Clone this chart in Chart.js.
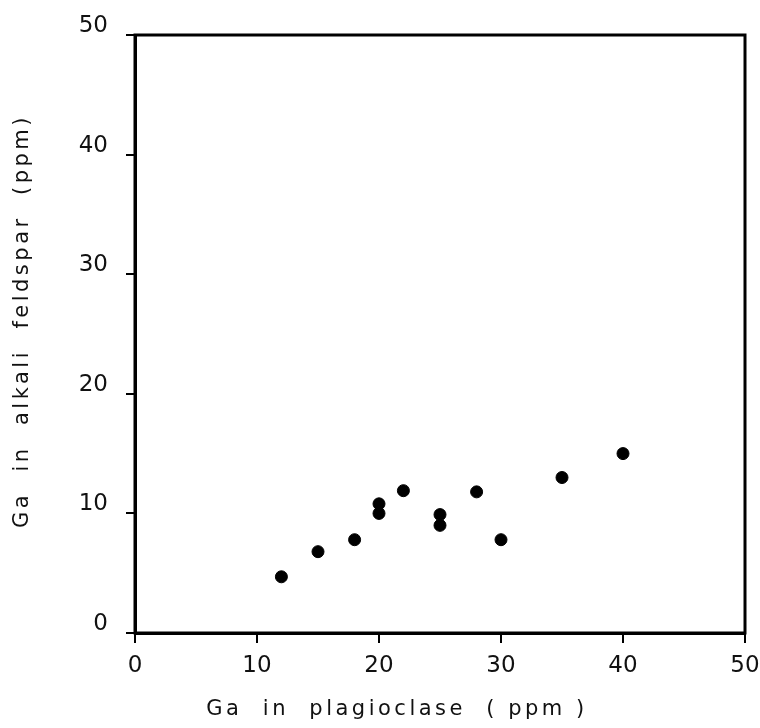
<!DOCTYPE html>
<html>
<head>
<meta charset="utf-8">
<script src="https://cdn.jsdelivr.net/npm/chart.js@4/dist/chart.umd.min.js"></script>
<style>
    html, body { margin: 0; padding: 0; background: #fff; }
    #wrap { width: 760px; height: 728px; }
</style>
</head>
<body>
<div id="wrap"><canvas id="chart"></canvas></div>
<script>
// Ga in plagioclase vs Ga in alkali feldspar (ppm)
const gaPlagioclase = [12, 15, 18, 20, 20, 22, 25, 25, 28, 30, 35, 40];
const gaAlkaliFeldspar = [4.7, 6.8, 7.8, 10.8, 10.0, 11.9, 9.9, 9.0, 11.8, 7.8, 13.0, 15.0];
const xTitle = 'Ga  in  plagioclase  ( ppm )';
const yTitle = 'Ga  in  alkali  feldspar  (ppm)';
const axisMin = 0;
const axisMax = 50;
const tickStep = 10;

const font = 'DejaVu Sans';

// frame + axis titles drawn by hand so they sit where the original has them
const framePlugin = {
    id: 'frame',
    afterDraw(chart) {
        const { ctx, chartArea: a } = chart;
        ctx.save();
        ctx.strokeStyle = '#000';
        ctx.lineWidth = 3;
        ctx.strokeRect(a.left, a.top, a.right - a.left, a.bottom - a.top);

        ctx.fillStyle = '#111';
        ctx.font = `21px "${font}"`;
        ctx.letterSpacing = '3.5px';
        ctx.textAlign = 'center';
        ctx.textBaseline = 'middle';
        ctx.fillText(xTitle, 397, 710);

        ctx.translate(23, 321);
        ctx.rotate(-Math.PI / 2);
        ctx.fillText(yTitle, 0, 0);
        ctx.restore();
    },
};

const tickFont = { family: font, size: 23 };

new Chart(document.getElementById('chart'), {
    type: 'scatter',
    data: {
        datasets: [{
            data: gaPlagioclase.map((x, i) => ({ x, y: gaAlkaliFeldspar[i] })),
            backgroundColor: '#000',
            borderColor: '#000',
            pointRadius: 6,
            pointHoverRadius: 6,
        }],
    },
    options: {
        responsive: true,
        maintainAspectRatio: false,
        animation: false,
        layout: { padding: { top: 35, right: 15, left: 0, bottom: 0 } },
        plugins: { legend: { display: false }, tooltip: { enabled: false } },
        scales: {
            x: {
                min: axisMin,
                max: axisMax,
                ticks: { stepSize: tickStep, color: '#111', font: tickFont, padding: 9 },
                grid: { drawOnChartArea: false, drawTicks: true, tickLength: 10, color: '#000', lineWidth: 2 },
                border: { display: true, color: '#000', width: 3 },
                afterFit(scale) {
                    scale.height = 95;
                    scale.paddingLeft = 0;
                    scale.paddingRight = 0;
                },
            },
            y: {
                min: axisMin,
                max: axisMax,
                ticks: { stepSize: tickStep, color: '#111', font: tickFont, padding: 18, labelOffset: -9 },
                grid: { drawOnChartArea: false, drawTicks: true, tickLength: 9, color: '#000', lineWidth: 2 },
                border: { display: true, color: '#000', width: 3 },
                afterFit(scale) { scale.width = 135; },
            },
        },
    },
    plugins: [framePlugin],
});
</script>
</body>
</html>
